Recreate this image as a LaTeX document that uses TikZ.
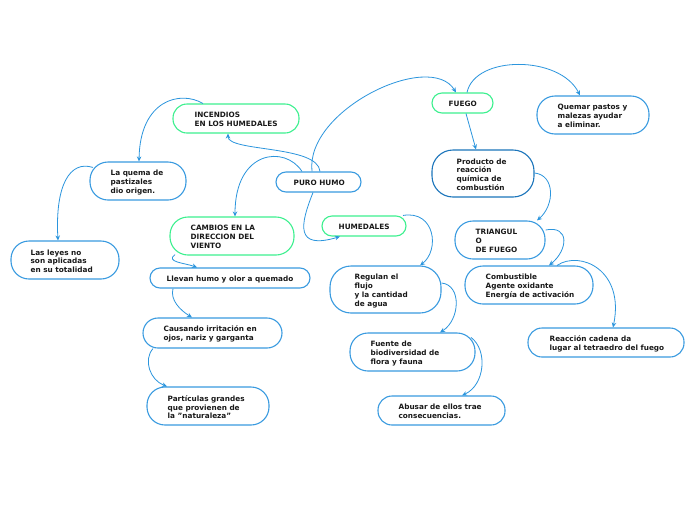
\documentclass[tikz,border=0pt]{standalone}
\usepackage{fontspec}
\setmainfont{DejaVu Sans}[Ligatures=ResetAll]
\usetikzlibrary{arrows.meta}
\definecolor{bbox}{HTML}{3A9BE0}
\definecolor{gbox}{HTML}{3DF08F}
\definecolor{dbox}{HTML}{1B75BB}
\definecolor{conn}{HTML}{2B95DD}
\tikzset{
  box/.style={draw=bbox, line width=1.1pt, rectangle, inner sep=0pt},
  gbx/.style={box, draw=gbox},
  dbx/.style={box, draw=dbox},
  txt/.style={align=left, inner sep=0pt, anchor=west,
    font=\fontsize{7.3}{8.9}\selectfont\bfseries, text=black!90},
  con/.style={draw=conn, line width=0.8pt, -{Stealth[length=5pt,width=4.5pt]}},
}
\newcommand{\bx}[9]{%
  \node[#1, minimum width=#5pt, minimum height=#6pt, rounded corners=#8pt] (#2) at (#3,#4) {};
  \node[txt] (#2t) at ([xshift=#7pt,yshift=-1.2pt]#2.west) {#9};}
\begin{document}
\begin{tikzpicture}[x=1pt,y=-1pt]
\useasboundingbox (0,0) rectangle (696,520);
\fill[white] (0,0) rectangle (696,520);
\bx{gbx}{inc}{236}{118.5}{126}{29}{22}{14}{INCENDIOS\\EN LOS HUMEDALES}
\bx{gbx}{fuego}{462.5}{103}{61}{20}{17}{10}{FUEGO}
\bx{box}{quemar}{593}{115}{112}{38}{21}{18}{Quemar pastos y\\malezas ayudar\\a eliminar.}
\bx{box}{laquema}{138}{181}{96}{38}{21}{18}{La quema de\\pastizales\\dio origen.}
\bx{box}{puro}{318.5}{182}{85}{20}{18}{10}{PURO HUMO}
\bx{dbx}{producto}{483}{173.5}{102}{47}{25}{21}{Producto de\\reacción\\química de\\combustión}
\bx{box}{leyes}{65}{260}{108}{38}{20}{18}{Las leyes no\\son aplicadas\\en su totalidad}
\bx{gbx}{cambios}{232}{236}{124}{38}{21}{18}{CAMBIOS EN LA\\DIRECCION DEL\\VIENTO}
\bx{gbx}{humedales}{364}{226}{84}{20}{17}{10}{HUMEDALES}
\bx{box}{triang}{500}{240}{90}{38}{21}{18}{TRIANGUL\\O\\DE FUEGO}
\bx{box}{llevan}{230}{278}{160}{20}{17}{10}{Llevan humo y olor a quemado}
\bx{box}{regulan}{385.5}{289.5}{111}{47}{25}{21}{Regulan el\\flujo\\y la cantidad\\de agua}
\bx{box}{combust}{529}{285}{128}{38}{21}{18}{Combustible\\Agente oxidante\\Energía de activación}
\bx{box}{causando}{212.5}{333}{139}{30}{21}{15}{Causando irritación en\\ojos, nariz y garganta}
\bx{box}{reaccion}{606}{342.5}{156}{29}{22}{14}{Reacción cadena da\\lugar al tetraedro del fuego}
\bx{box}{fuente}{412.5}{352}{125}{38}{21}{18}{Fuente de\\biodiversidad de\\flora y fauna}
\bx{box}{particulas}{208}{406}{122}{38}{21}{18}{Partículas grandes\\que provienen de\\la "naturaleza"}
\bx{box}{abusar}{441.5}{410.5}{127}{29}{21}{14}{Abusar de ellos trae\\consecuencias.}
% connectors
\draw[con] ([xshift=1.5pt]puro.north) .. controls (318,145) and (228,152) .. ([xshift=-8pt]inc.south);
\draw[con] ([xshift=-6.5pt]puro.north) .. controls (305,110) and (430,50) .. ([xshift=-6.5pt]fuego.north);
\draw[con] ([xshift=-16.5pt]puro.north) .. controls (285,145) and (235,150) .. ([xshift=3pt]cambios.north);
\draw[con] ([xshift=-5.5pt]puro.south) .. controls (300,225) and (295,250) .. ([xshift=-24pt]humedales.south);
\draw[con] ([xshift=-33pt]inc.north) .. controls (180,90) and (140,100) .. ([xshift=1pt]laquema.north);
\draw[con] ([xshift=-45pt,yshift=-6pt]laquema.north) .. controls (70,160) and (55,185) .. ([xshift=-7pt]leyes.north);
\draw[con] ([xshift=-57pt,yshift=1pt]cambios.south) .. controls (165,262) and (185,263) .. ([xshift=-33pt]llevan.north);
\draw[con] ([xshift=-57pt]llevan.south) .. controls (170,300) and (180,310) .. ([xshift=-20.5pt]causando.north);
\draw[con] ([xshift=-59.5pt]causando.south) .. controls (143,360) and (150,380) .. ([xshift=-41pt]particulas.north);
\draw[con] ([xshift=4.5pt]fuego.north) .. controls (475,55) and (560,55) .. ([xshift=-13pt]quemar.north);
\draw[con] ([xshift=3.5pt]fuego.south) -- ([xshift=-7pt]producto.north);
\draw[con] ([yshift=0.5pt]producto.east) .. controls (555,175) and (555,205) .. ([xshift=37pt]triang.north);
\draw[con] ([yshift=10pt]triang.east) .. controls (570,225) and (568,250) .. ([xshift=20pt]combust.north);
\draw[con] ([xshift=28pt]combust.north) .. controls (580,250) and (625,270) .. ([xshift=7pt]reaccion.north);
\draw[con] ([xshift=39pt]humedales.north) .. controls (435,210) and (440,250) .. ([xshift=34.5pt]regulan.north);
\draw[con] ([yshift=6.5pt]regulan.east) .. controls (462,285) and (460,320) .. ([xshift=27.5pt]fuente.north);
\draw[con] ([xshift=58.5pt,yshift=-5pt]fuente.north) .. controls (488,350) and (485,385) .. ([xshift=20.5pt]abusar.north);
\end{tikzpicture}
\end{document}
